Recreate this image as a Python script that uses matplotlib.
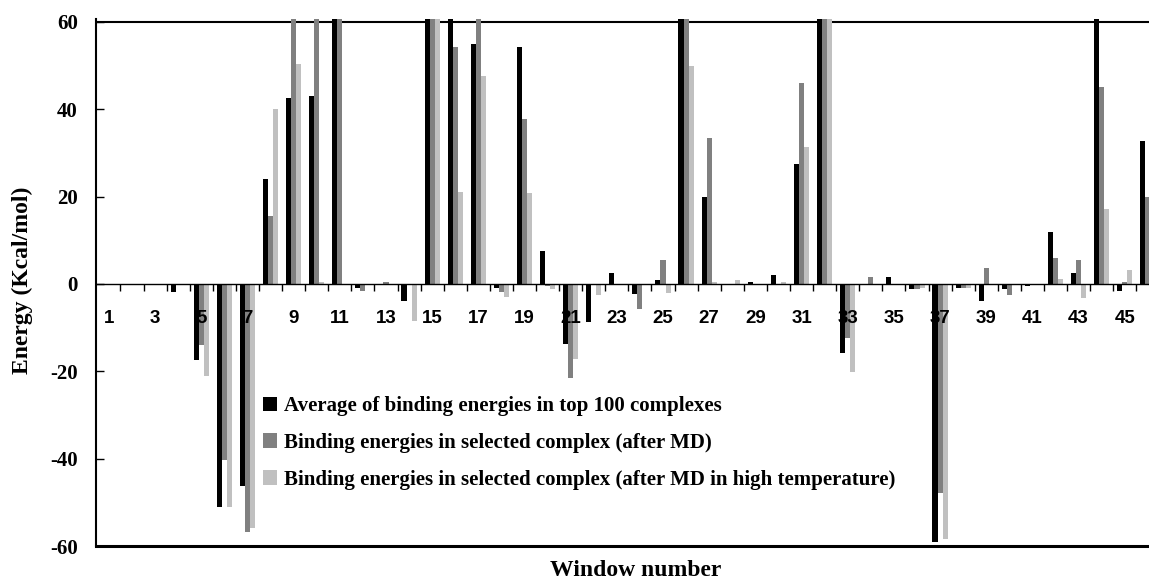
import numpy as np
import matplotlib.pyplot as plt

# windows 1..46, three series (values above 60 are off the chart)
windows = np.arange(1, 47)
avg_top100 = [0, 0, 0, -1.8, -17.3, -51.1, -46.2, 24.0, 42.5, 43.1,
              70, -1.0, 0, -3.9, 70, 70, 54.9, -1.0, 54.3, 7.6,
              -13.8, -8.6, 2.4, -2.4, 0.9, 70, 20.0, 0, 0.4, 2.0,
              27.5, 70, -15.9, 0, 1.5, -1.2, -59.0, -1.0, -3.9, -1.2,
              -0.5, 12.0, 2.4, 70, -1.6, 32.7]
after_md = [0, 0, 0, 0, -13.9, -40.3, -56.9, 15.6, 70, 70,
            70, -1.7, 0.4, 0, 70, 54.3, 70, -1.8, 37.7, -0.5,
            -21.6, 0, 0, -5.8, 5.5, 70, 33.5, 0, 0, 0,
            46.0, 70, -12.3, 1.5, 0, -1.2, -47.8, -0.9, 3.6, -2.5,
            0, 6.0, 5.5, 45.0, 0.4, 20.0]
after_md_hot = [0, 0, 0, 0, -21.1, -51.1, -55.8, 40.0, 50.4, 0.4,
                0, 0, 0, -8.5, 70, 21.1, 47.6, -2.9, 20.8, -1.2,
                -17.2, -2.5, 0, 0, -2.1, 49.9, 0.4, 0.9, 0, 0.4,
                31.3, 70, -20.2, 0, 0, -0.9, -58.5, -0.9, 0, 0,
                0, 1.1, -3.1, 17.2, 3.1, np.nan]

labels = ["Average of binding energies in top 100 complexes",
          "Binding energies in selected complex (after MD)",
          "Binding energies in selected complex (after MD in high temperature)"]
colors = ["#000000", "#808080", "#c0c0c0"]

plt.rcParams['font.family'] = 'Liberation Serif'
plt.rcParams['font.weight'] = 'bold'
plt.rcParams['axes.unicode_minus'] = False

fig = plt.figure(figsize=(11.49, 5.79), dpi=100)
ax = fig.add_axes([96 / 1149, 1 - 546 / 579, 1053 / 1149, (546 - 18.9) / 579])

w = 0.22
for i, (vals, lab, col) in enumerate(zip([avg_top100, after_md, after_md_hot], labels, colors)):
    ax.bar(windows + (i - 1) * w, vals, width=w, color=col, label=lab, zorder=1)

ax.set_xlim(0.44, 46.05)
ax.set_ylim(-60, 60.7)

# zero line with boundary ticks, odd labels below
ax.spines['bottom'].set_position(('data', 0))
ax.spines['bottom'].set_linewidth(1)
ax.spines['top'].set_visible(False)
ax.spines['right'].set_visible(False)
ax.spines['left'].set_linewidth(1.5)
ax.axhline(60, color='black', lw=1.5, zorder=0.5)
ax.axhline(-60, color='black', lw=2.2, clip_on=False, zorder=0.5)

odd = windows[::2]
ax.set_xticks(odd)
ax.set_xticklabels([str(n) for n in odd], family='Liberation Sans', fontweight='bold', fontsize=13.5)
ax.set_xticks(windows[:-1] + 0.5, minor=True)
ax.tick_params(axis='x', which='major', length=0, pad=18.5)
ax.tick_params(axis='x', which='minor', length=5, width=1, direction='out')

ax.set_yticks([-60, -40, -20, 0, 20, 40, 60])
ax.tick_params(axis='y', direction='in', length=6, width=1, pad=13, labelsize=15)

fig.text(22 / 1149, 1 - 280 / 579, "Energy (Kcal/mol)", rotation=90,
         ha='center', va='center', fontsize=17, fontweight='bold')
fig.text(636 / 1149, 1 - 576 / 579, "Window number", ha='center', va='baseline',
         fontsize=17, fontweight='bold')

ax.legend(loc='upper left', bbox_to_anchor=(263 / 1149, 1 - 396 / 579),
          bbox_transform=fig.transFigure, frameon=False, fontsize=15,
          borderpad=0, borderaxespad=0, handlelength=0.67, handleheight=0.67,
          handletextpad=0.35, labelspacing=0.81)

fig.savefig("out.png", dpi=100)
